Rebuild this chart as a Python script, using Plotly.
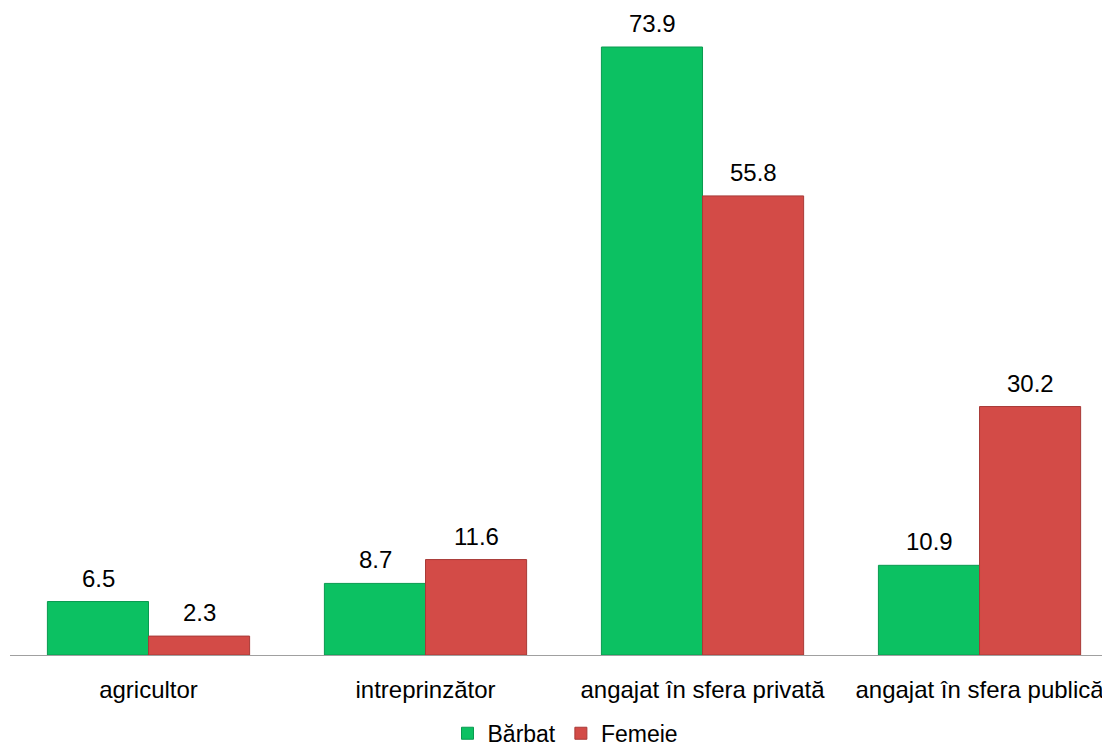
import plotly.graph_objects as go

categories = ["agricultor", "intreprinzător", "angajat în sfera privată", "angajat în sfera publică"]
barbat = [6.5, 8.7, 73.9, 10.9]
femeie = [2.3, 11.6, 55.8, 30.2]
series_names = ["Bărbat", "Femeie"]

FONT = "Liberation Sans, Arial"

fig = go.Figure()
fig.add_trace(go.Bar(
    x=categories, y=barbat, name=series_names[0],
    marker=dict(color="#0CC162", line=dict(color="#0A9A50", width=1)),
))
fig.add_trace(go.Bar(
    x=categories, y=femeie, name=series_names[1],
    marker=dict(color="#D34B47", line=dict(color="#A83A37", width=1)),
))

for vals, shift in ((barbat, -50.5), (femeie, 50.5)):
    for c, v in zip(categories, vals):
        fig.add_annotation(x=c, y=v, text=f"{v:.1f}", showarrow=False,
                           xshift=shift, yshift=8, yanchor="bottom",
                           font=dict(size=24, color="#000000", family=FONT))

fig.update_layout(
    width=1102, height=739,
    margin=dict(l=2, r=0, t=0, b=92, autoexpand=False),
    plot_bgcolor="white", paper_bgcolor="white",
    barmode="group", bargap=0.27, bargroupgap=0,
    font=dict(family=FONT, size=24, color="#000000"),
    showlegend=True,
    legend=dict(orientation="h", x=0.505, xanchor="center", y=-0.121, yanchor="middle",
                font=dict(size=23), traceorder="normal", itemwidth=30),
    xaxis=dict(range=[-0.5, 3.471], showline=True, linecolor="#A0A0A0", linewidth=1,
               ticks="", tickfont=dict(size=24), showgrid=False, ticklabelstandoff=13,
               automargin=False),
    yaxis=dict(range=[0, 78.64], visible=False, showgrid=False, automargin=False),
)
fig.write_html("out.html")
